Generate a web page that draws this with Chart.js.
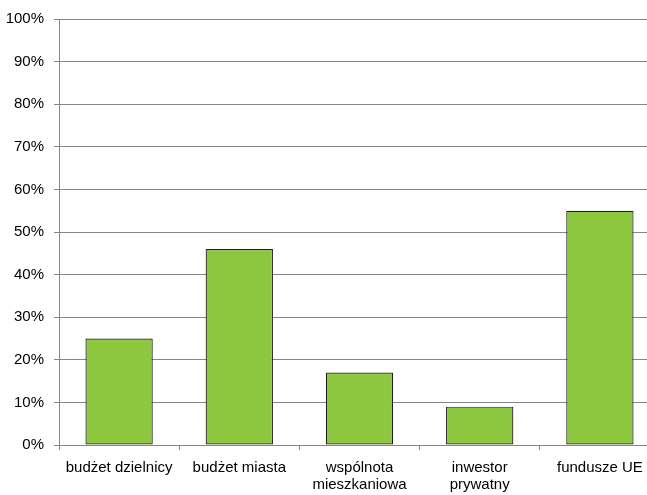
<!DOCTYPE html>
<html>
<head>
<meta charset="utf-8">
<script src="https://cdn.jsdelivr.net/npm/chart.js@4"></script>
<style>
html,body{margin:0;padding:0;background:#fff;overflow:hidden;}
#wrap{width:647px;height:495px;overflow:hidden;position:relative;}
#box{width:670px;height:495px;position:absolute;left:0;top:0;}
</style>
</head>
<body>
<div id="wrap"><div id="box"><canvas id="c"></canvas></div></div>
<script>
const categories = [["budżet dzielnicy"], ["budżet miasta"], ["wspólnota", "mieszkaniowa"], ["inwestor", "prywatny"], ["fundusze UE"]];
const values = [25, 46, 17, 9, 55];
const yTicks = [0, 10, 20, 30, 40, 50, 60, 70, 80, 90, 100];

Chart.defaults.font.family = "'Liberation Sans', Arial, sans-serif";
Chart.defaults.font.size = 15;
Chart.defaults.color = '#000';

new Chart(document.getElementById('c'), {
  type: 'bar',
  data: {
    labels: categories,
    datasets: [{
      data: values,
      backgroundColor: '#8dc63f',
      borderColor: '#1f1f1f',
      borderWidth: 1.2,
      borderSkipped: false,
      categoryPercentage: 0.56,
      barPercentage: 1.0
    }]
  },
  options: {
    responsive: true,
    maintainAspectRatio: false,
    animation: false,
    layout: { padding: { top: 17, right: 10, bottom: 0, left: 0 } },
    plugins: { legend: { display: false }, tooltip: { enabled: false } },
    scales: {
      x: {
        grid: { display: true, drawOnChartArea: false, drawTicks: true, tickLength: 5, color: '#868686', offset: true },
        border: { display: true, color: '#868686', width: 1 },
        ticks: { padding: 9, maxRotation: 0, autoSkip: false, font: { size: 15, lineHeight: 1.15 }, color: '#000' },
        afterFit: (s) => { s.height = 50; }
      },
      y: {
        min: 0, max: 100,
        afterBuildTicks: (s) => { s.ticks = yTicks.map(v => ({ value: v })); },
        grid: { color: '#868686', tickLength: 5, lineWidth: 1 },
        border: { display: true, color: '#868686', width: 1 },
        ticks: { padding: 10, font: { size: 15 }, color: '#000', callback: (v) => v + '%' },
        afterFit: (s) => { s.width = 59; }
      }
    }
  }
});
</script>
</body>
</html>
